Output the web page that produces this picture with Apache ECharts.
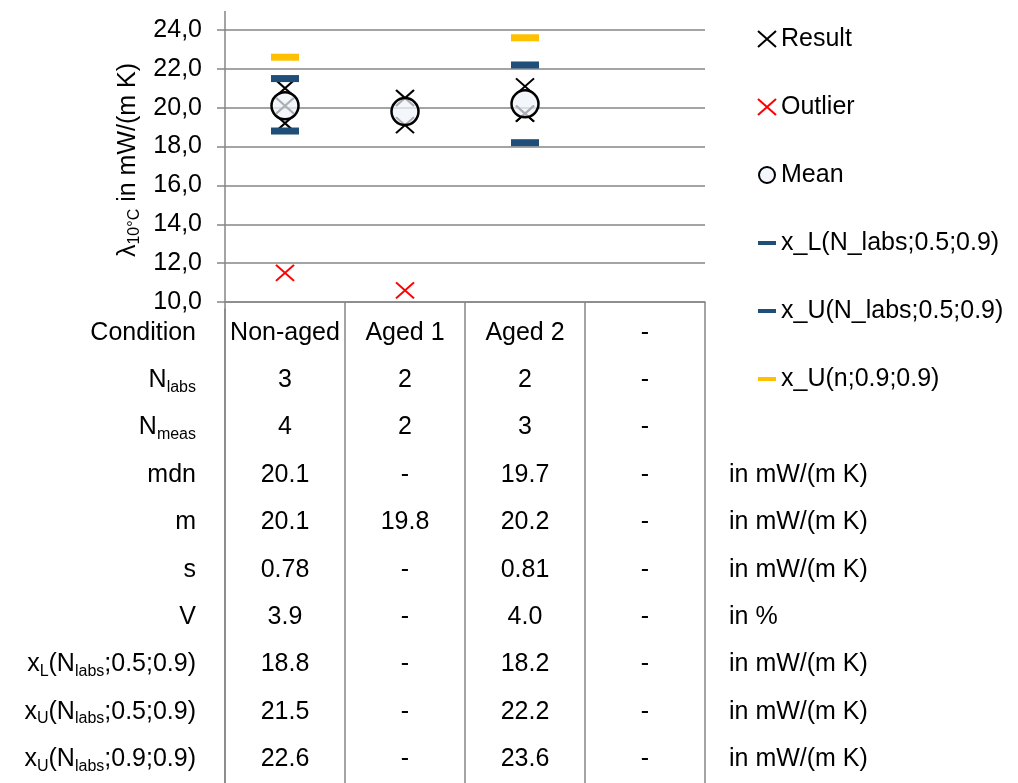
<!DOCTYPE html>
<html>
<head>
<meta charset="utf-8">
<script src="https://cdn.jsdelivr.net/npm/echarts@6/dist/echarts.min.js"></script>
<style>
  html, body { margin: 0; padding: 0; background: #fff; }
  #main { width: 1018px; height: 783px; }
</style>
</head>
<body>
<div id="main"></div>
<script>
// columns of the table / categories of the plot
const conditions = ['Non-aged', 'Aged 1', 'Aged 2', '-'];
const nLabs = ['3', '2', '2', '-'];
const nMeas = ['4', '2', '3', '-'];
const medians = ['20.1', '-', '19.7', '-'];
const means = [20.1, 19.8, 20.2, null];
const stdDevs = ['0.78', '-', '0.81', '-'];
const cv = ['3.9', '-', '4.0', '-'];
const xLower = [18.8, null, 18.2, null];
const xUpper = [21.5, null, 22.2, null];
const xUpper09 = [22.6, null, 23.6, null];

// single measurements [column, value]
const results = [[0, 21.0], [0, 20.1], [0, 19.2], [1, 20.5], [1, 19.1], [2, 21.1], [2, 19.7], [2, 19.7]];
const outliers = [[0, 11.5], [1, 10.6]];

const yTicks = { min: 10, max: 24, interval: 2 };

const rowLabels = [
  '{n|Condition}',
  '{n|N}{s|labs}',
  '{n|N}{s|meas}',
  '{n|mdn}',
  '{n|m}',
  '{n|s}',
  '{n|V}',
  '{n|x}{s|L}{n|(N}{s|labs}{n|;0.5;0.9)}',
  '{n|x}{s|U}{n|(N}{s|labs}{n|;0.5;0.9)}',
  '{n|x}{s|U}{n|(N}{s|labs}{n|;0.9;0.9)}'
];
const rowUnits = ['', '', '', 'in mW/(m K)', 'in mW/(m K)', 'in mW/(m K)', 'in %',
  'in mW/(m K)', 'in mW/(m K)', 'in mW/(m K)'];

const legendNames = ['Result', 'Outlier', 'Mean', 'x_L(N_labs;0.5;0.9)', 'x_U(N_labs;0.5;0.9)', 'x_U(n;0.9;0.9)'];

const FONT = '"Liberation Sans", Arial, sans-serif';
const FS = 25;
const GRID_GREY = '#868686';
const BLUE = '#1F4E79';
const GOLD = '#FFC000';
const X_PATH = 'path://M0,0L18,16M18,0L0,16';
const BAR_ICON = 'path://M0,0L0,0M18,16L18,16M0,6L18,6L18,10L0,10Z';

const fmt = v => (v == null ? '-' : v.toFixed(1));

const tableRows = [
  conditions, nLabs, nMeas, medians,
  means.map(fmt), stdDevs, cv,
  xLower.map(fmt), xUpper.map(fmt), xUpper09.map(fmt)
];

function tableCells() {
  const cells = [];
  tableRows.forEach((row, r) => {
    row.forEach((txt, c) => cells.push({ name: txt, value: [c, r] }));
  });
  return cells;
}

function pairs(arr) {
  return arr.map((v, i) => [i, v]).filter(p => p[1] != null);
}

const richSub = {
  n: { fontSize: FS, lineHeight: 30, fontFamily: FONT, color: '#000' },
  s: { fontSize: 16, lineHeight: 12, verticalAlign: 'bottom', fontFamily: FONT, color: '#000' }
};

const chart = echarts.init(document.getElementById('main'), null, { renderer: 'canvas' });

const option = {
  animation: false,
  backgroundColor: '#fff',
  textStyle: { fontFamily: FONT },
  grid: [
    { left: 225, top: 30, width: 480, height: 272 },
    { left: 225, top: 309, width: 480, height: 480 }
  ],
  legend: {
    orient: 'vertical',
    left: 752,
    top: 20,
    itemWidth: 18,
    itemHeight: 16,
    itemGap: 40,
    selectedMode: false,
    textStyle: { fontSize: FS, lineHeight: 28, color: '#000', fontFamily: FONT },
    data: [
      { name: legendNames[0] },
      { name: legendNames[1] },
      { name: legendNames[2] },
      { name: legendNames[3], icon: BAR_ICON },
      { name: legendNames[4], icon: BAR_ICON },
      { name: legendNames[5], icon: BAR_ICON }
    ]
  },
  xAxis: [
    {
      type: 'category',
      gridIndex: 0,
      data: conditions,
      axisLine: { show: true, lineStyle: { color: GRID_GREY, width: 1.5 } },
      axisTick: { show: true, length: 7, interval: 0, lineStyle: { color: GRID_GREY, width: 1.5 } },
      axisLabel: { show: false },
      splitLine: { show: false }
    },
    {
      type: 'category',
      gridIndex: 1,
      data: conditions,
      axisLine: { show: false },
      axisTick: { show: false },
      axisLabel: { show: false },
      splitLine: { show: true, interval: 0, lineStyle: { color: GRID_GREY, width: 1.5 } }
    }
  ],
  yAxis: [
    {
      type: 'value',
      gridIndex: 0,
      min: yTicks.min,
      max: yTicks.max,
      interval: yTicks.interval,
      name: '{n|λ}{s|10°C}{n| in mW/(m K)}',
      nameLocation: 'middle',
      nameRotate: 90,
      nameGap: 82,
      nameTextStyle: { rich: richSub, padding: [0, 0, 0, 12] },
      axisLine: { show: true, lineStyle: { color: GRID_GREY, width: 1.5 } },
      axisTick: { show: true, length: 8, lineStyle: { color: GRID_GREY, width: 1.5 } },
      axisLabel: {
        fontSize: FS, color: '#000', margin: 23, fontFamily: FONT,
        formatter: v => v.toFixed(1).replace('.', ',')
      },
      splitLine: { show: true, lineStyle: { color: GRID_GREY, width: 1.5 } }
    },
    {
      type: 'category',
      gridIndex: 1,
      inverse: true,
      data: rowLabels,
      axisLine: { show: true, lineStyle: { color: GRID_GREY, width: 1.5 } },
      axisTick: { show: false },
      axisLabel: { interval: 0, margin: 29, rich: richSub, formatter: v => v },
      splitLine: { show: false }
    },
    {
      type: 'category',
      gridIndex: 1,
      inverse: true,
      position: 'right',
      data: rowUnits,
      axisLine: { show: false },
      axisTick: { show: false },
      axisLabel: { interval: 0, margin: 24, fontSize: FS, color: '#000', fontFamily: FONT },
      splitLine: { show: false }
    }
  ],
  graphic: [
    {
      type: 'line',
      shape: { x1: 225, y1: 11, x2: 225, y2: 30 },
      style: { stroke: GRID_GREY, lineWidth: 1.5 },
      silent: true
    }
  ],
  series: [
    {
      name: legendNames[0],
      type: 'scatter',
      xAxisIndex: 0, yAxisIndex: 0,
      symbol: X_PATH,
      symbolSize: [18, 16],
      itemStyle: { color: '#000', borderColor: '#000', borderWidth: 2, opacity: 1 },
      data: results
    },
    {
      name: legendNames[1],
      type: 'scatter',
      xAxisIndex: 0, yAxisIndex: 0,
      symbol: X_PATH,
      symbolSize: [18, 16],
      itemStyle: { color: '#FF0000', borderColor: '#FF0000', borderWidth: 2, opacity: 1 },
      data: outliers
    },
    {
      name: legendNames[2],
      type: 'scatter',
      xAxisIndex: 0, yAxisIndex: 0,
      symbol: 'circle',
      symbolSize: 27,
      itemStyle: { color: 'rgba(238,243,250,0.72)', borderColor: '#000', borderWidth: 2.5, opacity: 1 },
      data: pairs(means)
    },
    {
      name: legendNames[3],
      type: 'scatter',
      xAxisIndex: 0, yAxisIndex: 0,
      symbol: 'rect',
      symbolSize: [28, 7],
      itemStyle: { color: BLUE, opacity: 1 },
      data: pairs(xLower)
    },
    {
      name: legendNames[4],
      type: 'scatter',
      xAxisIndex: 0, yAxisIndex: 0,
      symbol: 'rect',
      symbolSize: [28, 7],
      itemStyle: { color: BLUE, opacity: 1 },
      data: pairs(xUpper)
    },
    {
      name: legendNames[5],
      type: 'scatter',
      xAxisIndex: 0, yAxisIndex: 0,
      symbol: 'rect',
      symbolSize: [28, 7],
      itemStyle: { color: GOLD, opacity: 1 },
      data: pairs(xUpper09)
    },
    {
      name: 'table',
      type: 'scatter',
      xAxisIndex: 1, yAxisIndex: 1,
      symbolSize: 1,
      silent: true,
      itemStyle: { color: 'transparent', opacity: 1 },
      label: {
        show: true, position: 'inside', formatter: '{b}',
        fontSize: FS, color: '#000', fontFamily: FONT
      },
      data: tableCells()
    }
  ]
};

chart.setOption(option);
</script>
</body>
</html>
